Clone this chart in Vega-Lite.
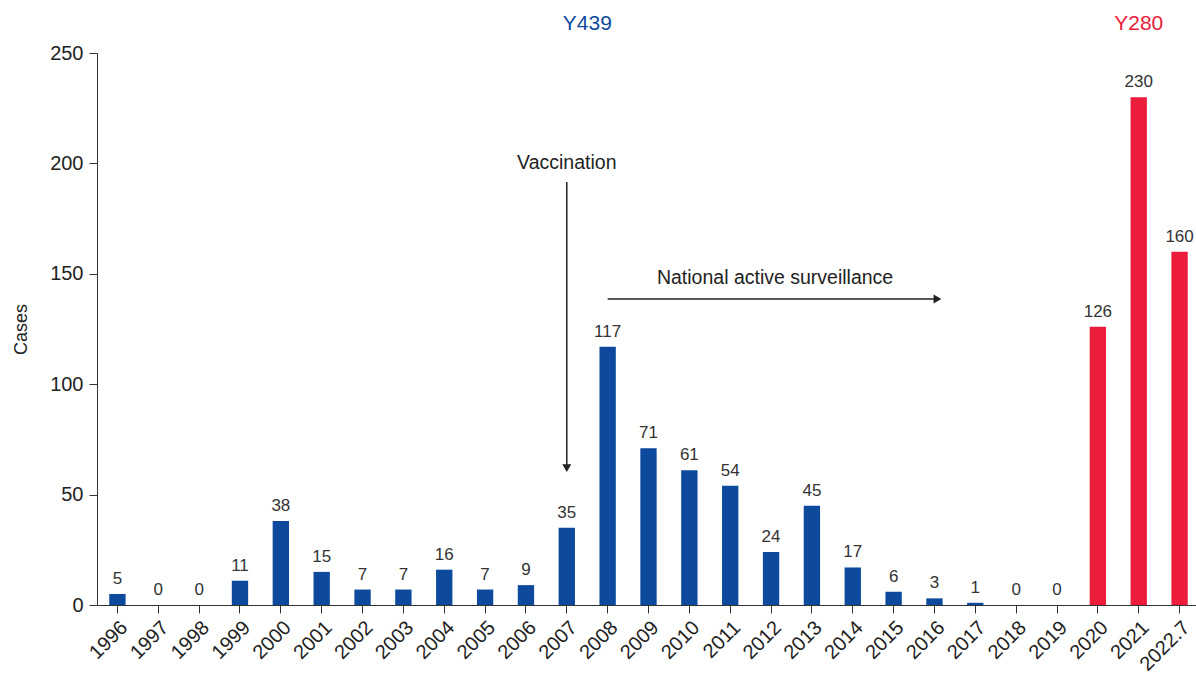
{
  "$schema": "https://vega.github.io/schema/vega-lite/v6.json",
  "width": 1103,
  "height": 552,
  "autosize": {"type": "none"},
  "padding": {"left": 97, "top": 53, "right": 0, "bottom": 72},
  "config": {"view": {"stroke": null}, "font": "Liberation Sans"},
  "datasets": {
    "cases": [
      {"year": "1996", "cases": 5, "variant": "Y439"},
      {"year": "1997", "cases": 0, "variant": "Y439"},
      {"year": "1998", "cases": 0, "variant": "Y439"},
      {"year": "1999", "cases": 11, "variant": "Y439"},
      {"year": "2000", "cases": 38, "variant": "Y439"},
      {"year": "2001", "cases": 15, "variant": "Y439"},
      {"year": "2002", "cases": 7, "variant": "Y439"},
      {"year": "2003", "cases": 7, "variant": "Y439"},
      {"year": "2004", "cases": 16, "variant": "Y439"},
      {"year": "2005", "cases": 7, "variant": "Y439"},
      {"year": "2006", "cases": 9, "variant": "Y439"},
      {"year": "2007", "cases": 35, "variant": "Y439"},
      {"year": "2008", "cases": 117, "variant": "Y439"},
      {"year": "2009", "cases": 71, "variant": "Y439"},
      {"year": "2010", "cases": 61, "variant": "Y439"},
      {"year": "2011", "cases": 54, "variant": "Y439"},
      {"year": "2012", "cases": 24, "variant": "Y439"},
      {"year": "2013", "cases": 45, "variant": "Y439"},
      {"year": "2014", "cases": 17, "variant": "Y439"},
      {"year": "2015", "cases": 6, "variant": "Y439"},
      {"year": "2016", "cases": 3, "variant": "Y439"},
      {"year": "2017", "cases": 1, "variant": "Y439"},
      {"year": "2018", "cases": 0, "variant": "Y439"},
      {"year": "2019", "cases": 0, "variant": "Y439"},
      {"year": "2020", "cases": 126, "variant": "Y280"},
      {"year": "2021", "cases": 230, "variant": "Y280"},
      {"year": "2022.7", "cases": 160, "variant": "Y280"}
    ]
  },
  "layer": [
    {
      "data": {"name": "cases"},
      "mark": {"type": "bar"},
      "encoding": {
        "x": {
          "field": "year", "type": "nominal", "sort": null,
          "scale": {"paddingInner": 0.6, "paddingOuter": 0.3},
          "axis": {"title": null, "labelAngle": -45, "labelFontSize": 20, "labelColor": "#222", "tickSize": 8, "tickColor": "#333", "domainColor": "#333", "labelPadding": 4}
        },
        "y": {
          "field": "cases", "type": "quantitative",
          "scale": {"domain": [0, 250], "nice": false},
          "axis": {"values": [0, 50, 100, 150, 200, 250], "grid": false, "title": "Cases", "titleFontSize": 18, "titleFontWeight": "normal", "titleColor": "#222", "titlePadding": 19, "labelFontSize": 20, "labelColor": "#222", "tickSize": 8, "tickColor": "#333", "domainColor": "#333", "labelPadding": 6}
        },
        "color": {"field": "variant", "type": "nominal", "scale": {"domain": ["Y439", "Y280"], "range": ["#0D4A9E", "#EC1C3B"]}, "legend": null}
      }
    },
    {
      "data": {"name": "cases"},
      "mark": {"type": "text", "baseline": "alphabetic", "dy": -10, "fontSize": 17, "color": "#333"},
      "encoding": {
        "x": {"field": "year", "type": "nominal", "sort": null},
        "y": {"field": "cases", "type": "quantitative"},
        "text": {"field": "cases", "type": "quantitative"}
      }
    },
    {
      "data": {"values": [{"year": "2007", "y": 263, "label": "Y439", "variant": "Y439"}]},
      "mark": {"type": "text", "baseline": "middle", "dx": 20.5, "fontSize": 21},
      "encoding": {
        "x": {"field": "year", "type": "nominal", "sort": null},
        "y": {"field": "y", "type": "quantitative"},
        "text": {"field": "label"},
        "color": {"field": "variant", "type": "nominal", "legend": null}
      }
    },
    {
      "data": {"values": [{"year": "2021", "y": 263, "label": "Y280", "variant": "Y280"}]},
      "mark": {"type": "text", "baseline": "middle", "fontSize": 21},
      "encoding": {
        "x": {"field": "year", "type": "nominal", "sort": null},
        "y": {"field": "y", "type": "quantitative"},
        "text": {"field": "label"},
        "color": {"field": "variant", "type": "nominal", "legend": null}
      }
    },
    {
      "data": {"values": [{"year": "2007", "y": 200, "label": "Vaccination"}]},
      "mark": {"type": "text", "baseline": "middle", "fontSize": 19.5, "color": "#222"},
      "encoding": {
        "x": {"field": "year", "type": "nominal", "sort": null},
        "y": {"field": "y", "type": "quantitative"},
        "text": {"field": "label"}
      }
    },
    {
      "data": {"values": [{"year": "2007", "y": 191.6, "y2": 62}]},
      "mark": {"type": "rule", "color": "#222", "strokeWidth": 1.5},
      "encoding": {
        "x": {"field": "year", "type": "nominal", "sort": null},
        "y": {"field": "y", "type": "quantitative"},
        "y2": {"field": "y2"}
      }
    },
    {
      "data": {"values": [{"year": "2007", "y": 62}]},
      "mark": {"type": "point", "shape": "triangle-down", "filled": true, "size": 80, "color": "#222", "opacity": 1},
      "encoding": {
        "x": {"field": "year", "type": "nominal", "sort": null},
        "y": {"field": "y", "type": "quantitative"}
      }
    },
    {
      "data": {"values": [{"year": "2012", "y": 148, "label": "National active surveillance"}]},
      "mark": {"type": "text", "baseline": "middle", "fontSize": 19.5, "color": "#222", "dx": 4},
      "encoding": {
        "x": {"field": "year", "type": "nominal", "sort": null},
        "y": {"field": "y", "type": "quantitative"},
        "text": {"field": "label"}
      }
    },
    {
      "data": {"values": [{"year": "2008", "year2": "2016", "y": 138.6}]},
      "mark": {"type": "rule", "color": "#222", "strokeWidth": 1.5},
      "encoding": {
        "x": {"field": "year", "type": "nominal", "sort": null},
        "x2": {"field": "year2"},
        "y": {"field": "y", "type": "quantitative"}
      }
    },
    {
      "data": {"values": [{"year": "2016", "y": 138.6}]},
      "mark": {"type": "point", "shape": "triangle-right", "filled": true, "size": 80, "color": "#222", "opacity": 1, "xOffset": 3},
      "encoding": {
        "x": {"field": "year", "type": "nominal", "sort": null},
        "y": {"field": "y", "type": "quantitative"}
      }
    }
  ]
}
